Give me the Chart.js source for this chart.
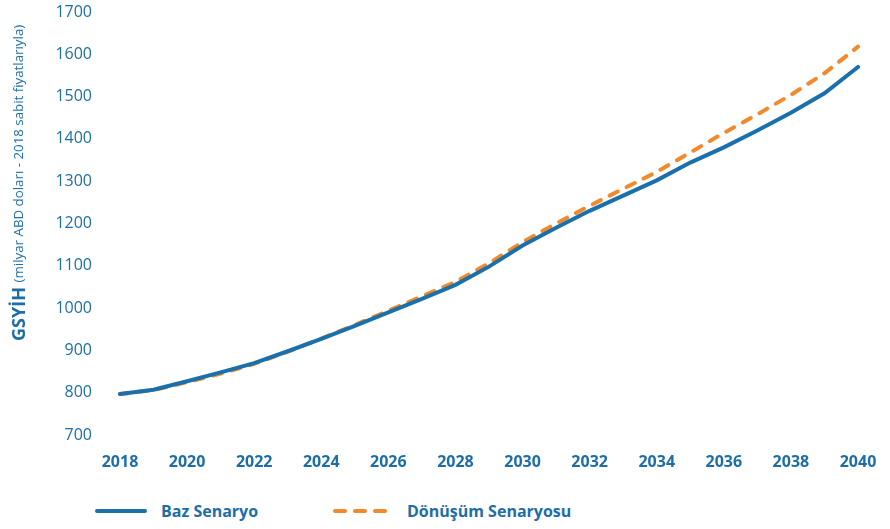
<!DOCTYPE html>
<html>
<head>
<meta charset="utf-8">
<script src="https://cdn.jsdelivr.net/npm/chart.js@4.4.1/dist/chart.umd.min.js"></script>
<style>
  body { margin: 0; background: #fff; font-family: "Open Sans", sans-serif; }
  #wrap { position: relative; width: 890px; height: 529px; }
  #chartBox { position: absolute; left: 0; top: 0; width: 890px; height: 480px; }
  .legend { position: absolute; top: 499px; left: 0; height: 24px; font-weight: bold; font-size: 16px; color: #1d6ea7; }
  .item { position: absolute; top: 0; display: flex; align-items: center; height: 24px; white-space: nowrap; }
  .item svg { margin-right: 14px; }
</style>
</head>
<body>
<div id="wrap">
  <div id="chartBox"><canvas id="gdpChart"></canvas></div>
  <div class="legend">
    <div class="item" style="left:95px">
      <svg width="52" height="6"><line x1="2" y1="3" x2="50" y2="3" stroke="#1a70ab" stroke-width="4" stroke-linecap="round"/></svg>Baz Senaryo
    </div>
    <div class="item" style="left:333px">
      <svg width="60" height="6"><line x1="2" y1="3" x2="57" y2="3" stroke="#f28a2c" stroke-width="4" stroke-linecap="round" stroke-dasharray="10 10"/></svg>Dönüşüm Senaryosu
    </div>
  </div>
</div>
<script>
const years = [2018, 2019, 2020, 2021, 2022, 2023, 2024, 2025, 2026, 2027, 2028,
  2029, 2030, 2031, 2032, 2033, 2034, 2035, 2036, 2037, 2038, 2039, 2040];
const bazSenaryo = [797, 807, 827, 848, 870, 898, 927, 958, 990, 1022, 1055,
  1098, 1148, 1190, 1230, 1266, 1302, 1344, 1380, 1420, 1462, 1508, 1570];
const donusumSenaryosu = [797, 806, 825, 845, 868, 897, 928, 960, 994, 1028, 1062,
  1106, 1156, 1200, 1242, 1282, 1322, 1368, 1414, 1458, 1504, 1555, 1618];
const yTicks = [700, 800, 900, 1000, 1100, 1200, 1300, 1400, 1500, 1600, 1700];

const textBlue = "#1d6ea7";

// rotated y title with a bold part and a normal part
const yTitle = {
  id: "yTitle",
  afterDraw(chart) {
    const ctx = chart.ctx;
    ctx.save();
    ctx.translate(19, 341);
    ctx.rotate(-Math.PI / 2);
    ctx.fillStyle = textBlue;
    ctx.textBaseline = "middle";
    ctx.textAlign = "left";
    ctx.font = "bold 18px 'Open Sans'";
    ctx.fillText("GSYİH", 0, 1);
    const w = ctx.measureText("GSYİH ").width;
    ctx.font = "13.3px 'Open Sans'";
    ctx.fillText("(milyar ABD doları - 2018 sabit fiyatlarıyla)", w, 0);
    ctx.restore();
  }
};

new Chart(document.getElementById("gdpChart"), {
  type: "line",
  data: {
    labels: years,
    datasets: [
      {
        label: "Baz Senaryo",
        data: bazSenaryo,
        borderColor: "#1a70ab",
        borderWidth: 4,
        pointRadius: 0,
        tension: 0,
        borderCapStyle: "round"
      },
      {
        label: "Dönüşüm Senaryosu",
        data: donusumSenaryosu,
        borderColor: "#f28a2c",
        borderWidth: 4,
        borderDash: [9, 10],
        borderCapStyle: "round",
        pointRadius: 0,
        tension: 0
      }
    ]
  },
  options: {
    responsive: true,
    maintainAspectRatio: false,
    animation: false,
    layout: { padding: { top: 12, right: 32, left: 0, bottom: 0 } },
    plugins: { legend: { display: false }, tooltip: { enabled: false } },
    scales: {
      x: {
        offset: false,
        grid: { display: false, tickLength: 8 },
        border: { display: false },
        afterFit: s => { s.height = 45; },
        ticks: {
          color: textBlue,
          padding: 10,
          maxRotation: 0,
          autoSkip: false,
          font: { family: "Open Sans", size: 16, weight: "bold" },
          callback: function (v, i) { return i % 2 === 0 ? years[i] : null; }
        }
      },
      y: {
        min: 700,
        max: 1700,
        grid: { display: false, tickLength: 28 },
        border: { display: false },
        afterFit: s => { s.width = 120; },
        afterBuildTicks: s => { s.ticks = yTicks.map(v => ({ value: v })); },
        ticks: {
          color: textBlue,
          padding: 0,
          font: { family: "Open Sans", size: 16 },
          callback: v => String(v)
        }
      }
    }
  },
  plugins: [yTitle]
});
</script>
</body>
</html>
